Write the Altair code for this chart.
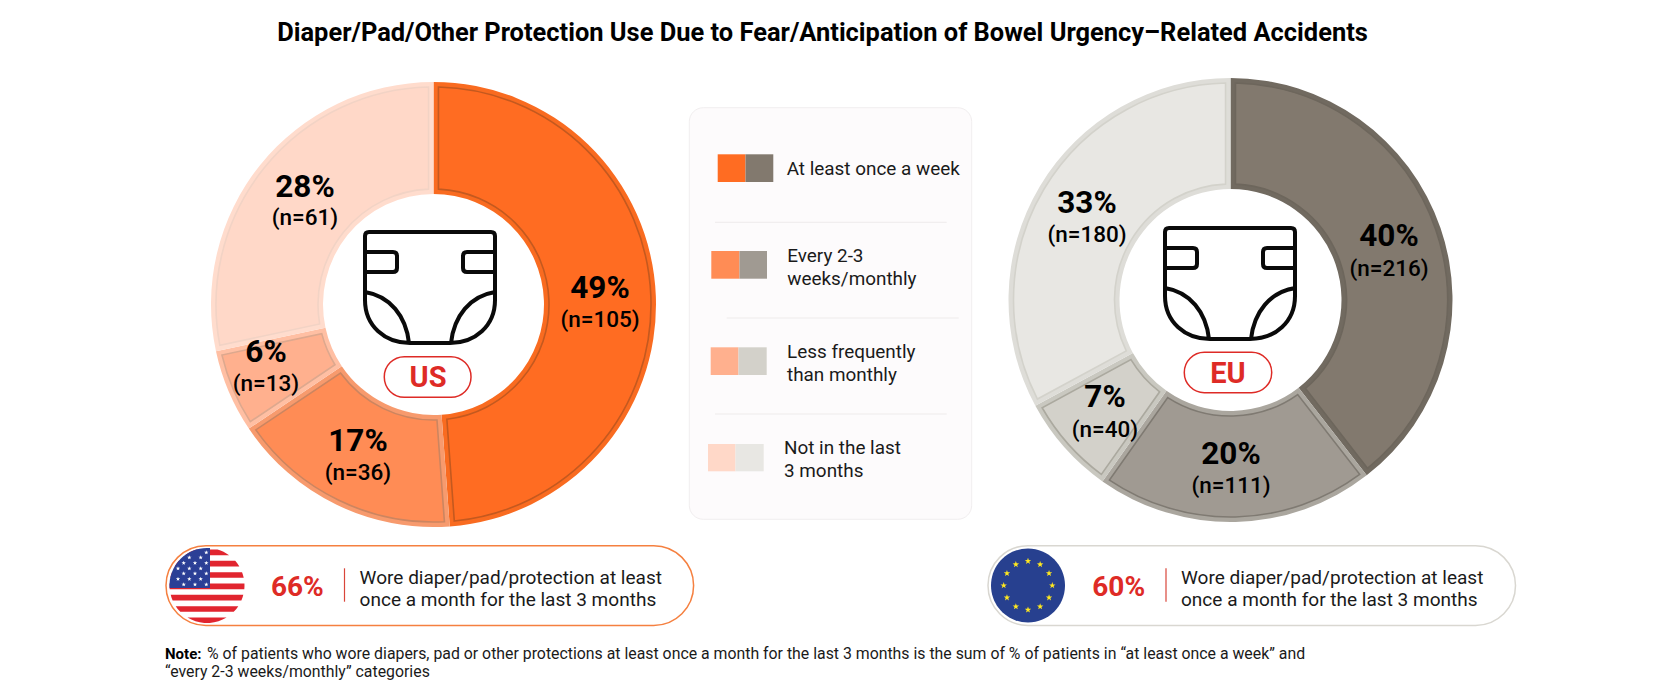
import math
import altair as alt
import pandas as pd

FONT = "Roboto"
OFF = 8  # page margin

categories = ["At least once a week", "Every 2-3 weeks/monthly", "Less frequently than monthly", "Not in the last 3 months"]
us_n = [105, 36, 13, 61]
us_pct = [49, 17, 6, 28]
eu_n = [216, 111, 40, 180]
eu_pct = [40, 20, 7, 33]

us_fill = ["#FF6C22", "#FF8C55", "#FFB08E", "#FFD8C8"]
us_band = ["#F96B20", "#F79A6D", "#FFBFA3", "#FFDCCD"]
us_line = ["#C4591F", "#CC8560", "#DDA88E", "#F2D3C5"]
eu_fill = ["#82796E", "#A09A92", "#D3D1CA", "#E8E7E3"]
eu_band = ["#716A60", "#AAA69E", "#C9C8C0", "#DEDDD8"]
eu_line = ["#6D665C", "#7F7A72", "#ABA99F", "#D3D2CB"]

title_text = "Diaper/Pad/Other Protection Use Due to Fear/Anticipation of Bowel Urgency\u2013Related Accidents"
callout_lines = ["Wore diaper/pad/protection at least", "once a month for the last 3 months"]
note_bold = "Note:"
note_line1 = "% of patients who wore diapers, pad or other protections at least once a month for the last 3 months is the sum of % of patients in \u201cat least once a week\u201d and"
note_line2 = "\u201cevery 2-3 weeks/monthly\u201d categories"

EMPTY = alt.Data(values=[{}])


def text(x, y, s, size=18, weight=400, color="#1a1a1a", align="left"):
    return alt.Chart(EMPTY).mark_text(font=FONT, fontSize=size, fontWeight=weight, color=color,
                                      align=align, baseline="alphabetic").encode(
        x=alt.value(x - OFF), y=alt.value(y - OFF), text=alt.value(s))


def rect(x0, x1, y0, y1, fill, stroke=None, sw=0, r=0):
    kw = dict(fill=fill, cornerRadius=r)
    if stroke:
        kw.update(stroke=stroke, strokeWidth=sw)
    return alt.Chart(EMPTY).mark_rect(**kw).encode(
        x=alt.value(x0 - OFF), x2=alt.value(x1 - OFF), y=alt.value(y0 - OFF), y2=alt.value(y1 - OFF))


def rule(x0, x1, y0, y1, color, sw=1):
    return alt.Chart(EMPTY).mark_rule(color=color, strokeWidth=sw).encode(
        x=alt.value(x0 - OFF), x2=alt.value(x1 - OFF), y=alt.value(y0 - OFF), y2=alt.value(y1 - OFF))


def glyph(cx, cy, d, fill="transparent", stroke="transparent", sw=0):
    # size=4 makes one path unit one pixel
    return alt.Chart(EMPTY).mark_point(shape=d, size=4, filled=False, fill=fill, fillOpacity=1,
                                       stroke=stroke, strokeWidth=sw, strokeOpacity=1,
                                       strokeJoin="round", strokeCap="round", opacity=1).encode(
        x=alt.value(cx - OFF), y=alt.value(cy - OFF))


def slices(cx, cy, n, fills, bands, lines, R=222.5, r=110.5, inset=5):
    df = pd.DataFrame({"n": n, "i": range(len(n)), "fill": fills, "band": bands, "line": lines})
    th = alt.Theta("n:Q", stack=True)
    base = alt.Chart(df)
    band = base.mark_arc(radius=R, radius2=r).encode(
        theta=th, order=alt.Order("i:O"), fill=alt.Fill("band:N", scale=None),
        x=alt.value(cx - OFF), y=alt.value(cy - OFF))
    core = base.mark_arc(radius=R - inset, radius2=r + inset, padAngle=2 * inset / math.hypot(R, r),
                         strokeWidth=1.6).encode(
        theta=th, order=alt.Order("i:O"), fill=alt.Fill("fill:N", scale=None),
        stroke=alt.Stroke("line:N", scale=None),
        x=alt.value(cx - OFF), y=alt.value(cy - OFF))
    return [band, core]


DIAPER = ("M-61,-56 H61 Q65,-56 65,-52 V12 C65,38 45,55 20,55 H-20 C-45,55 -65,38 -65,12 V-52 Q-65,-56 -61,-56 Z "
          "M-65,-36 H-37 Q-33,-36 -33,-32 V-20 Q-33,-16 -37,-16 H-65 "
          "M65,-36 H37 Q33,-36 33,-32 V-20 Q33,-16 37,-16 H65 "
          "M-65,4 C-40,8 -24,28 -21,55 M65,4 C40,8 24,28 21,55")


def star(x, y, R):
    pts = []
    for k in range(10):
        a = -math.pi / 2 + k * math.pi / 5
        rr = R if k % 2 == 0 else R * 0.4
        pts.append(f"{x + rr * math.cos(a):.2f},{y + rr * math.sin(a):.2f}")
    return "M" + " L".join(pts) + " Z"


def circle_path(r):
    return f"M{-r},0 A{r},{r} 0 1 1 {r},0 A{r},{r} 0 1 1 {-r},0 Z"


def us_flag(cx, cy, r=37.5):
    parts = []
    for i in range(7):
        y0 = -36 + i * 11.33
        y1 = min(y0 + 5.7, r - 0.1)
        x0 = math.sqrt(max(r * r - y0 * y0, 0))
        x1 = math.sqrt(max(r * r - y1 * y1, 0))
        parts.append(f"M{-x0:.2f},{y0:.2f} L{x0:.2f},{y0:.2f} A{r},{r} 0 0 1 {x1:.2f},{y1:.2f} "
                     f"L{-x1:.2f},{y1:.2f} A{r},{r} 0 0 1 {-x0:.2f},{y0:.2f} Z")
    xr, yb = 3.0, 2.5
    xb = -math.sqrt(r * r - yb * yb)
    yt = -math.sqrt(r * r - xr * xr)
    canton = f"M{xr},{yt:.2f} L{xr},{yb} L{xb:.2f},{yb} A{r},{r} 0 0 1 {xr},{yt:.2f} Z"
    rows = [-33, -28, -22.5, -17, -12, -6.5, -1]
    stars = []
    for j, y in enumerate(rows):
        xs = [-34.7, -23.3, -12, -0.7] if j % 2 == 0 else [-29, -17.7, -6.3]
        for x in xs:
            if math.hypot(x, y) < r - 3:
                stars.append(star(x, y, 2.3))
    return [glyph(cx, cy, circle_path(r), fill="#FFFFFF"),
            glyph(cx, cy, " ".join(parts), fill="#E1252F"),
            glyph(cx, cy, canton, fill="#2B3F96"),
            glyph(cx, cy, " ".join(stars), fill="#FFFFFF")]


def eu_flag(cx, cy, r=37):
    stars = [star(24.3 * math.sin(k * math.pi / 6), 24.3 * -math.cos(k * math.pi / 6), 3.4) for k in range(12)]
    return [glyph(cx, cy, circle_path(r), fill="#27408F"),
            glyph(cx, cy, " ".join(stars), fill="#FFE81F")]


layers = []
layers.append(text(822.5, 41, title_text, size=25.45, weight=700, color="#000000", align="center"))

# donuts
layers += slices(433.5, 304.5, us_n, us_fill, us_band, us_line)
layers += slices(1230.5, 300, eu_n, eu_fill, eu_band, eu_line, R=222, r=111)

RED = "#DE2B26"
# diaper icons and region pills
layers.append(glyph(430, 288, DIAPER, stroke="#0a0a0a", sw=4))
layers.append(glyph(1230, 284, DIAPER, stroke="#0a0a0a", sw=4))
layers.append(rect(384.3, 471, 356.7, 397.3, "#FFFFFF", RED, 1.5, 20))
layers.append(rect(1184.3, 1271.7, 352.3, 392.7, "#FFFFFF", RED, 1.5, 20))
layers.append(text(428, 387, "US", size=29, weight=700, color=RED, align="center"))
layers.append(text(1228, 382.5, "EU", size=29, weight=700, color=RED, align="center"))

# slice labels
us_xy = [(600, 298, 327), (358, 451, 480), (266, 362, 391), (305, 197, 225)]
eu_xy = [(1389, 246, 276), (1231, 464, 493), (1105, 407, 437), (1087, 213, 242)]
for pcts, ns, xy in [(us_pct, us_n, us_xy), (eu_pct, eu_n, eu_xy)]:
    for p, v, (x, y1, y2) in zip(pcts, ns, xy):
        layers.append(text(x, y1, f"{p}%", size=31.5, weight=700, color="#000000", align="center"))
        layers.append(text(x, y2, f"(n={v})", size=22.5, weight=500, color="#000000", align="center"))

# legend card
layers.append(rect(689.3, 971.7, 107.7, 519.3, "#FDFBFC", "#F1EEEF", 1, 14))
swatch_xy = [(717.7, 745.5, 773.3, 154.3, 182), (711.3, 739.5, 767, 251, 278.7),
             (710.7, 738.5, 766.7, 347.3, 375), (708, 735.5, 763.7, 444, 471.3)]
for uf, ef, (x0, x1, x2, y0, y1) in zip(us_fill, eu_fill, swatch_xy):
    layers.append(rect(x0, x1, y0, y1, uf))
    layers.append(rect(x1, x2, y0, y1, ef))
for x0, x1, y in [(715, 946.7, 222.3), (726.7, 958.7, 318), (715, 946.7, 414)]:
    layers.append(rule(x0, x1, y, y, "#EEEBEB", 1))
legend_lines = [
    (786.7, 175, "At least once a week"),
    (787.3, 262.3, "Every 2-3"),
    (787.3, 285, "weeks/monthly"),
    (787, 357.7, "Less frequently"),
    (787, 380.7, "than monthly"),
    (784, 454.3, "Not in the last"),
    (784, 477.3, "3 months"),
]
for x, y, s in legend_lines:
    layers.append(text(x, y, s, size=18.9))

# callouts
layers.append(rect(166, 693.6, 545.7, 625.5, "#FFFFFF", "#F58040", 1.5, 39.9))
layers += us_flag(207, 585.5)
layers.append(text(297.3, 596, "66%", size=28, weight=700, color=RED, align="center"))
layers.append(rule(344.5, 344.5, 568.3, 601.7, "#D9453A", 1.2))
layers.append(text(359.6, 584, callout_lines[0], size=19.05))
layers.append(text(359.6, 606, callout_lines[1], size=19.05))

layers.append(rect(988, 1515.5, 545.7, 625.5, "#FFFFFF", "#D9D7D1", 1.5, 39.9))
layers += eu_flag(1028, 585.5)
layers.append(text(1118.7, 596, "60%", size=28, weight=700, color=RED, align="center"))
layers.append(rule(1166, 1166, 568.3, 601.7, "#D9453A", 1.2))
layers.append(text(1181, 584, callout_lines[0], size=19.05))
layers.append(text(1181, 606, callout_lines[1], size=19.05))

# note
layers.append(text(165, 658.5, note_bold, size=15, weight=700, color="#000000"))
layers.append(text(207, 658.5, note_line1, size=15.85))
layers.append(text(165, 677, note_line2, size=15.85))

chart = alt.layer(*layers).resolve_scale(theta="independent").properties(
    width=1640, height=672, padding=0, autosize=alt.AutoSizeParams(type="none"),
    background="white",
).configure_view(stroke=None)

chart.save("out.html", embed_options={"renderer": "svg", "actions": False})
